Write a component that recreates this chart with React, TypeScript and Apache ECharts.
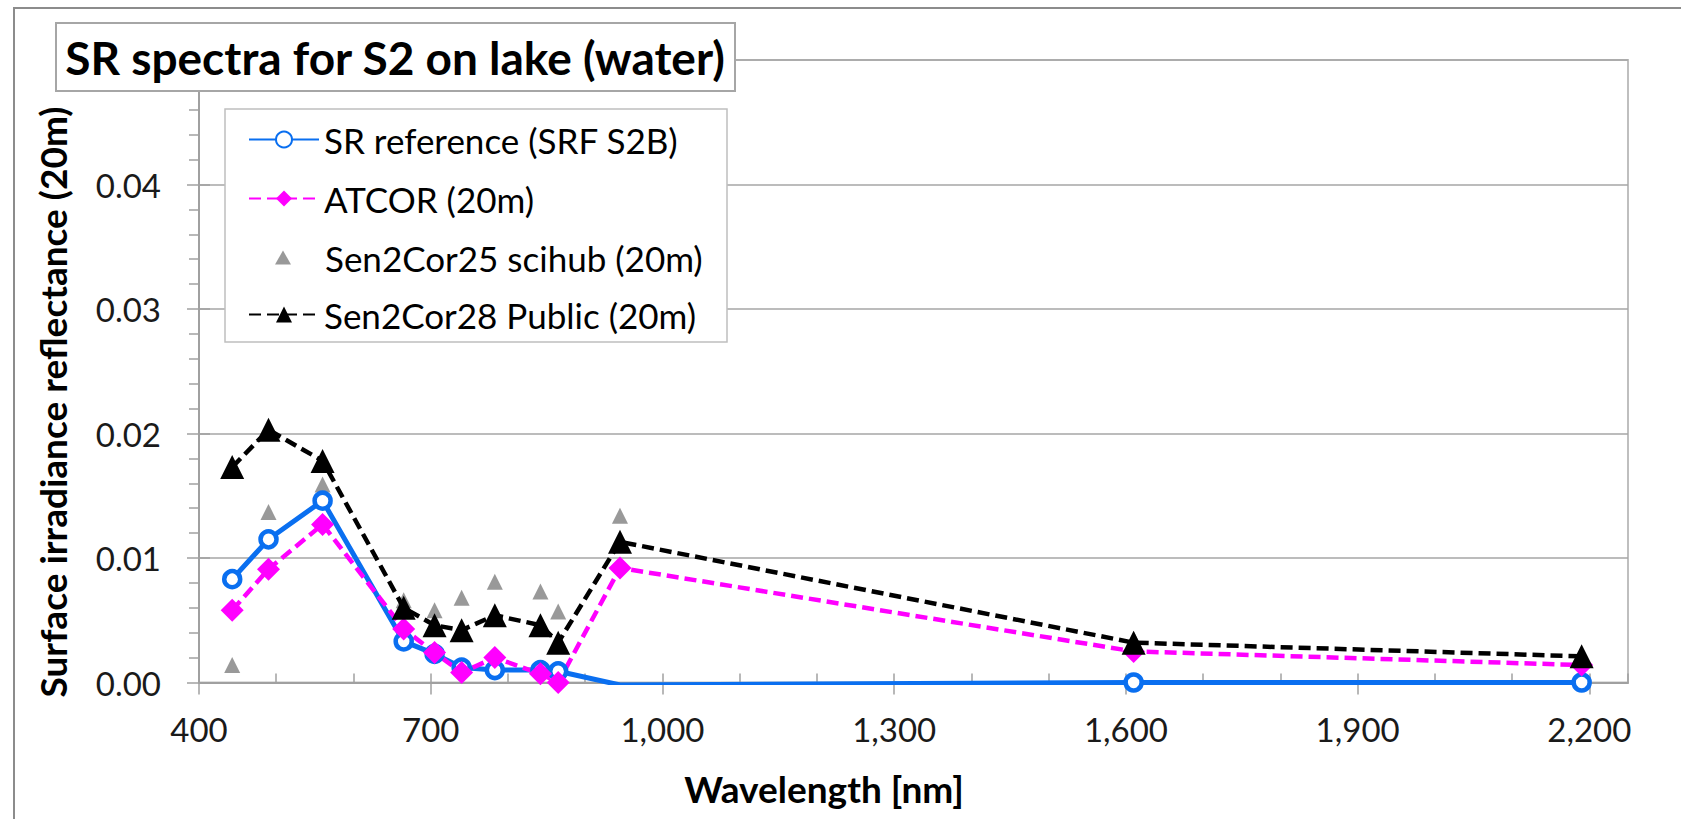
import React, { useEffect, useRef } from "react";
import * as echarts from "echarts";

// Wavelengths of the Sentinel-2 bands (nm)
const wavelengths = [443, 490, 560, 665, 705, 740, 783, 842, 865, 945, 1610, 2190];
// Surface reflectance values per series
const srReference = [0.0083, 0.0115, 0.0146, 0.0033, 0.0023, 0.0012, 0.001, 0.001, 0.0009, -0.0002, 0, 0];
const atcor = [0.0058, 0.0091, 0.0127, 0.0043, 0.0024, 0.0008, 0.002, 0.0007, 0.0, 0.0092, 0.0025, 0.0014];
const sen2cor25 = [0.0014, 0.0137, 0.0159, 0.0066, 0.0058, 0.0068, 0.0081, 0.0073, 0.0057, 0.0134, 0.0035, 0.0022];
const sen2cor28 = [0.0173, 0.0203, 0.0178, 0.006, 0.0046, 0.0042, 0.0054, 0.0046, 0.0032, 0.0113, 0.0032, 0.0021];

const seriesNames = [
  "SR reference (SRF S2B)",
  "ATCOR (20m)",
  "Sen2Cor25 scihub (20m)",
  "Sen2Cor28 Public (20m)",
];
const xTickValues = [400, 700, 1000, 1300, 1600, 1900, 2200];
const chartTitle = "SR spectra for S2 on lake (water)";
const yAxisTitle = "Surface irradiance reflectance (20m)";
const xAxisTitle = "Wavelength [nm]";

const FONT = 'Lato, "Open Sans", "DejaVu Sans", sans-serif';
const BLUE = "#0a6ff0";
const MAGENTA = "#ff00ff";
const GRAY_AXIS = "#a0a0a0";

const pairs = (vals: number[]) => wavelengths.map((w, i) => [w, vals[i]]);

function buildOption(): any {
  const tickStyle = { color: GRAY_AXIS, width: 1.5 };
  const legendText = { fontSize: 35, fontFamily: FONT, color: "#000", lineHeight: 34 };
  const legendBase = {
    orient: "vertical",
    padding: 0,
    selectedMode: false,
  };
  return {
    animation: false,
    backgroundColor: "#ffffff",
    grid: {
      left: 199,
      top: 60,
      right: 53,
      bottom: 136.5,
      show: true,
      borderColor: "#bfbfbf",
      borderWidth: 2,
      containLabel: false,
    },
    xAxis: [
      {
        type: "value",
        min: 400,
        max: 2250,
        interval: 300,
        position: "bottom",
        axisLine: { show: true, onZero: false, lineStyle: { color: GRAY_AXIS, width: 2 } },
        axisTick: { show: true, inside: false, length: 12, lineStyle: tickStyle, customValues: xTickValues },
        axisLabel: {
          customValues: xTickValues,
          margin: 30,
          fontSize: 33,
          fontFamily: FONT,
          color: "#1a1a1a",
          formatter: (v: number) => v.toLocaleString("en-US"),
        },
        splitLine: { show: false },
      },
      {
        type: "value",
        min: 400,
        max: 2250,
        interval: 100,
        position: "top",
        offset: -622.5,
        axisLine: { show: false },
        axisTick: { show: true, inside: false, length: 9, lineStyle: tickStyle },
        axisLabel: { show: false },
        splitLine: { show: false },
      },
    ],
    yAxis: [
      {
        type: "value",
        min: 0,
        max: 0.05,
        interval: 0.01,
        position: "left",
        axisLine: { show: true, onZero: false, lineStyle: { color: GRAY_AXIS, width: 2 } },
        axisTick: { show: true, inside: false, length: 12, lineStyle: tickStyle },
        minorTick: { show: true, splitNumber: 5, length: 10, lineStyle: tickStyle },
        axisLabel: {
          showMaxLabel: false,
          margin: 38,
          fontSize: 33,
          fontFamily: FONT,
          color: "#1a1a1a",
          formatter: (v: number) => v.toFixed(2),
        },
        splitLine: { show: true, lineStyle: { color: "#a6a6a6", width: 1.5 } },
      },
      {
        type: "value",
        min: 0,
        max: 0.05,
        interval: 0.01,
        position: "right",
        offset: -1429,
        axisLine: { show: false },
        axisTick: { show: true, inside: false, length: 11, lineStyle: tickStyle },
        axisLabel: { show: false },
        splitLine: { show: false },
      },
    ],
    legend: [
      {
        ...legendBase,
        left: 248,
        top: 122,
        itemWidth: 70,
        itemHeight: 20,
        itemGap: 24,
        data: [seriesNames[0], seriesNames[1]],
        textStyle: legendText,
      },
      {
        ...legendBase,
        left: 275,
        top: 240,
        itemWidth: 16,
        itemHeight: 14,
        data: [seriesNames[2]],
        textStyle: { ...legendText, padding: [0, 0, 0, 29] },
      },
      {
        ...legendBase,
        left: 248,
        top: 297,
        itemWidth: 70,
        itemHeight: 20,
        data: [seriesNames[3]],
        textStyle: legendText,
      },
    ],
    series: [
      {
        name: seriesNames[0],
        type: "line",
        xAxisIndex: 0,
        yAxisIndex: 0,
        data: wavelengths.map((w, i) => ({
          value: [w, srReference[i]],
          symbol: srReference[i] < 0 ? "none" : "circle",
        })),
        symbol: "circle",
        symbolSize: 16,
        lineStyle: { color: BLUE, width: 5 },
        itemStyle: { color: "#ffffff", borderColor: BLUE, borderWidth: 4.5 },
        clip: true,
      },
      {
        name: seriesNames[1],
        type: "line",
        xAxisIndex: 0,
        yAxisIndex: 0,
        data: pairs(atcor),
        symbol: "diamond",
        symbolSize: 23,
        lineStyle: { color: MAGENTA, width: 4.5, type: [12, 6] },
        itemStyle: { color: MAGENTA },
      },
      {
        name: seriesNames[3],
        type: "line",
        xAxisIndex: 0,
        yAxisIndex: 0,
        data: pairs(sen2cor28),
        symbol: "triangle",
        symbolSize: 24,
        lineStyle: { color: "#000", width: 4.5, type: [12, 6] },
        itemStyle: { color: "#000" },
      },
      {
        name: seriesNames[2],
        type: "scatter",
        xAxisIndex: 0,
        yAxisIndex: 0,
        data: pairs(sen2cor25),
        symbol: "triangle",
        symbolSize: 16,
        itemStyle: { color: "#808080" },
      },
    ],
    graphic: [
      {
        type: "rect",
        silent: true,
        z: -1,
        shape: { x: 14, y: 8, width: 1720, height: 900 },
        style: { fill: "none", stroke: "#8c8c8c", lineWidth: 2 },
      },
      {
        type: "rect",
        silent: true,
        z: 3,
        shape: { x: 225, y: 109, width: 502, height: 233 },
        style: { fill: "#ffffff", stroke: "#bfbfbf", lineWidth: 1.5 },
      },
      {
        type: "rect",
        silent: true,
        z: 10,
        shape: { x: 56, y: 23, width: 679, height: 68 },
        style: { fill: "#ffffff", stroke: "#a6a6a6", lineWidth: 2 },
      },
      {
        type: "text",
        silent: true,
        z: 11,
        x: 395,
        y: 57,
        style: {
          text: chartTitle,
          fontSize: 46,
          fontWeight: "bold",
          fontFamily: FONT,
          fill: "#000",
          align: "center",
          verticalAlign: "middle",
        },
      },
      {
        type: "text",
        silent: true,
        z: 11,
        x: 52,
        y: 402,
        rotation: Math.PI / 2,
        style: {
          text: yAxisTitle,
          fontSize: 37,
          fontWeight: "bold",
          fontFamily: FONT,
          fill: "#000",
          align: "center",
          verticalAlign: "middle",
        },
      },
      {
        type: "text",
        silent: true,
        z: 11,
        x: 824,
        y: 788,
        style: {
          text: xAxisTitle,
          fontSize: 37,
          fontWeight: "bold",
          fontFamily: FONT,
          fill: "#000",
          align: "center",
          verticalAlign: "middle",
        },
      },
    ],
  };
}

export default function App() {
  const ref = useRef<HTMLDivElement>(null);
  useEffect(() => {
    if (!ref.current) return;
    const chart = echarts.init(ref.current, null, { renderer: "svg" });
    chart.setOption(buildOption());
    return () => chart.dispose();
  }, []);
  return (
    <div
      ref={ref}
      style={{ position: "fixed", left: 0, top: 0, width: 1681, height: 819, background: "#fff" }}
    />
  );
}
